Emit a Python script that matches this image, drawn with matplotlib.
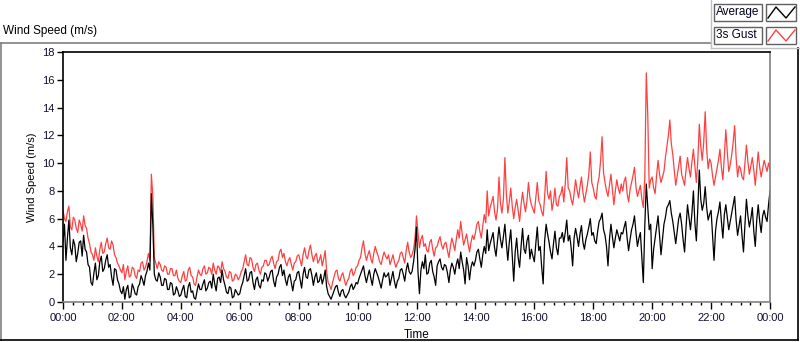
import numpy as np
import matplotlib
matplotlib.use("Agg")
import matplotlib.pyplot as plt
from matplotlib.lines import Line2D
from matplotlib.patches import Rectangle

plt.rcParams['font.family'] = ['Liberation Sans', 'DejaVu Sans']

# 3s gust, one value every 3 minutes (20 per hour, one row per hour)
gust = [
    6.6, 6.0, 5.8, 6.5, 6.9, 5.4, 5.2, 6.1, 5.9, 5.3, 5.0, 5.9, 5.6, 5.1, 6.2, 5.5, 5.3, 4.6, 4.2, 3.6,
    3.4, 3.0, 3.9, 3.3, 2.9, 3.8, 4.3, 3.5, 3.6, 4.2, 4.6, 3.9, 3.8, 4.4, 4.1, 3.4, 3.2, 2.8, 2.6, 2.3,
    2.1, 2.7, 1.6, 2.2, 2.6, 1.8, 1.9, 2.5, 2.4, 1.9, 1.7, 2.3, 2.2, 2.8, 2.9, 2.3, 2.5, 2.9, 3.5, 3.0,
    9.2, 7.6, 3.2, 2.8, 2.4, 2.9, 2.7, 2.3, 2.2, 2.6, 2.5, 2.0, 2.0, 2.4, 2.4, 1.9, 1.9, 2.3, 1.7, 1.5,
    1.4, 1.9, 2.2, 1.5, 1.6, 2.3, 2.5, 1.9, 1.8, 1.3, 1.2, 1.8, 2.3, 2.0, 1.9, 2.4, 2.6, 2.0, 2.1, 2.5,
    2.4, 2.0, 2.8, 2.3, 2.0, 2.6, 2.5, 2.1, 2.9, 2.4, 2.2, 1.8, 1.7, 2.2, 2.1, 1.5, 1.6, 2.0, 1.9, 1.6,
    1.8, 2.2, 2.4, 2.9, 3.4, 2.7, 2.6, 3.2, 3.1, 2.5, 2.2, 2.7, 2.8, 2.3, 2.0, 2.5, 2.6, 3.0, 3.0, 2.6,
    2.7, 3.1, 3.3, 2.8, 2.4, 2.9, 3.0, 3.6, 3.8, 3.2, 3.5, 2.9, 2.6, 3.0, 3.2, 2.7, 2.3, 2.8, 2.9, 3.3,
    3.4, 3.0, 2.6, 3.4, 3.9, 3.3, 3.1, 3.7, 4.1, 3.4, 2.9, 3.3, 3.5, 2.8, 3.0, 3.4, 2.6, 3.1, 3.7, 2.2,
    1.4, 1.2, 0.9, 1.4, 1.8, 2.2, 2.3, 1.7, 1.5, 1.9, 2.1, 1.6, 1.2, 1.5, 1.7, 2.2, 2.4, 1.9, 2.1, 2.5,
    2.6, 3.0, 3.2, 3.9, 4.4, 3.5, 3.0, 3.4, 3.7, 3.1, 2.8, 3.5, 4.0, 3.6, 3.3, 2.9, 2.7, 3.2, 3.6, 3.3,
    3.1, 3.4, 2.7, 3.0, 3.4, 2.9, 2.5, 2.8, 3.0, 3.5, 3.6, 3.2, 2.8, 3.7, 4.3, 3.6, 3.2, 3.4, 3.8, 4.6,
    6.2, 5.0, 3.9, 4.5, 4.8, 4.0, 4.2, 3.7, 3.6, 4.3, 4.5, 3.8, 3.3, 3.9, 4.0, 4.4, 4.7, 4.1, 3.8, 4.2,
    4.3, 3.7, 3.2, 4.0, 4.6, 4.2, 3.7, 4.5, 5.2, 4.6, 5.8, 4.9, 4.1, 4.5, 4.9, 4.2, 3.6, 4.3, 4.8, 4.5,
    5.0, 5.6, 5.8, 5.1, 4.6, 5.5, 6.3, 5.7, 8.0, 6.2, 6.8, 7.2, 7.6, 6.5, 5.9, 6.7, 9.0, 7.1, 6.4, 7.4,
    10.4, 7.8, 6.4, 7.2, 8.2, 6.9, 6.0, 6.8, 7.4, 6.6, 5.8, 7.0, 7.9, 7.1, 6.5, 7.3, 8.6, 7.5, 7.0, 6.7,
    6.4, 7.5, 8.6, 7.3, 7.0, 6.5, 6.2, 7.6, 9.4, 7.8, 7.4, 8.0, 6.6, 7.2, 8.2, 7.0, 6.9, 7.6, 7.8, 8.3,
    7.2, 8.5, 10.4, 8.2, 8.0, 7.4, 7.0, 7.8, 8.8, 8.1, 7.5, 8.3, 9.0, 7.9, 7.2, 7.8, 8.4, 9.2, 10.8, 8.6,
    8.2, 7.6, 7.4, 8.5, 9.0, 10.2, 11.9, 9.3, 8.6, 8.0, 7.6, 8.4, 9.2, 8.1, 7.0, 8.0, 8.8, 8.2, 7.8, 8.5,
    8.0, 8.7, 9.0, 7.8, 7.2, 8.1, 8.6, 9.1, 9.7, 8.3, 7.6, 8.0, 8.4, 7.4, 6.8, 9.0, 16.5, 13.5, 8.2, 8.8,
    9.0, 8.2, 7.8, 9.1, 10.2, 9.2, 8.6, 9.0, 9.4, 10.4, 11.2, 12.0, 13.1, 11.4, 10.6, 9.5, 8.4, 9.1, 9.8, 10.5,
    9.2, 8.8, 8.4, 9.5, 10.4, 9.6, 9.0, 10.1, 11.0, 9.8, 8.6, 10.2, 12.8, 11.2, 10.2, 11.5, 13.7, 11.0, 9.6, 10.3,
    10.0, 9.1, 8.4, 9.0, 9.6, 10.2, 11.0, 9.7, 8.8, 10.5, 12.4, 10.8, 9.4, 9.9, 10.6, 11.5, 12.7, 10.4, 9.0, 9.8,
    9.6, 9.0, 8.8, 10.0, 11.3, 10.1, 9.2, 9.8, 10.4, 9.5, 8.4, 9.6, 10.8, 9.7, 9.0, 9.6, 10.2, 9.8, 9.4, 10.0,
    9.6,
]

# average wind speed, same time steps
average = [
    4.3, 5.6, 3.0, 4.6, 5.9, 3.9, 3.4, 4.5, 4.1, 2.9, 3.5, 4.3, 4.4, 3.3, 4.8, 3.8, 3.6, 2.7, 2.5, 1.4,
    1.2, 2.1, 2.8, 1.6, 1.9, 2.9, 3.3, 2.2, 2.4, 3.0, 3.4, 2.5, 2.7, 1.8, 1.2, 2.4, 2.3, 1.6, 1.3, 0.8,
    0.6, 1.1, 0.2, 0.9, 1.2, 0.3, 0.4, 1.3, 1.0, 0.6, 0.5, 1.1, 1.3, 1.9, 1.6, 1.2, 1.9, 2.2, 2.8, 2.3,
    7.8, 5.5, 2.0, 1.6, 1.5, 2.1, 1.8, 1.2, 1.2, 1.7, 1.6, 0.9, 0.9, 1.4, 1.3, 0.5, 0.6, 1.1, 0.8, 0.4,
    0.5, 0.9, 1.2, 0.4, 0.3, 1.1, 1.4, 0.7, 0.8, 0.3, 0.2, 0.8, 1.3, 0.9, 0.9, 1.3, 1.6, 0.8, 1.0, 1.4,
    1.5, 1.0, 2.0, 1.3, 0.8, 1.7, 1.8, 1.4, 2.3, 1.6, 1.2, 0.7, 0.6, 1.1, 1.0, 0.3, 0.4, 0.9, 0.7, 0.5,
    0.6, 1.1, 1.4, 1.9, 2.4, 1.5, 1.6, 2.1, 2.2, 1.4, 0.9, 1.6, 1.8, 1.2, 1.0, 1.6, 1.5, 2.1, 2.0, 1.5,
    1.8, 2.2, 2.3, 1.5, 1.1, 1.8, 2.0, 2.5, 2.7, 1.9, 2.3, 1.6, 1.2, 1.8, 2.0, 1.4, 0.8, 1.5, 1.6, 2.1,
    2.2, 1.6, 1.0, 2.0, 2.5, 1.8, 1.7, 2.3, 2.4, 1.9, 1.2, 1.8, 2.1, 1.4, 1.5, 2.0, 1.3, 1.7, 2.3, 1.1,
    0.6, 0.4, 0.2, 0.5, 0.8, 1.1, 1.2, 0.7, 0.4, 0.8, 0.9, 0.5, 0.3, 0.5, 0.7, 1.1, 1.3, 0.9, 1.1, 1.4,
    1.3, 1.7, 2.0, 2.3, 2.6, 1.9, 1.4, 1.9, 2.3, 1.7, 1.2, 2.0, 2.4, 2.1, 1.8, 1.4, 1.0, 1.6, 2.1, 1.8,
    1.9, 2.1, 1.2, 1.7, 2.2, 1.5, 1.0, 1.5, 1.7, 2.3, 2.4, 2.0, 1.5, 2.3, 2.8, 2.2, 2.0, 2.2, 2.9, 3.8,
    5.4, 2.2, 0.6, 2.3, 2.9, 2.4, 3.4, 2.0, 2.1, 2.8, 3.0, 2.2, 1.8, 1.2, 2.6, 2.9, 3.1, 2.5, 2.3, 2.7,
    2.6, 2.1, 1.4, 2.3, 2.8, 2.5, 2.0, 2.7, 3.1, 2.4, 3.6, 2.9, 2.3, 1.3, 3.2, 2.6, 1.6, 2.5, 2.9, 2.6,
    3.0, 3.6, 3.8, 3.1, 2.5, 3.4, 4.0, 3.5, 5.2, 3.7, 4.2, 4.6, 5.0, 3.9, 3.3, 4.4, 5.4, 4.5, 3.9, 4.7,
    5.6, 4.2, 3.0, 4.3, 5.2, 3.4, 1.5, 3.6, 4.6, 3.2, 2.5, 4.0, 5.3, 3.8, 3.5, 4.4, 4.8, 3.1, 3.8, 3.3,
    2.9, 4.2, 5.4, 3.7, 4.0, 2.5, 1.3, 4.4, 5.6, 4.9, 4.3, 3.6, 3.1, 4.2, 5.1, 3.9, 3.4, 4.6, 4.6, 5.0,
    4.3, 5.0, 5.9, 4.4, 4.8, 3.9, 2.6, 4.6, 5.3, 4.7, 4.0, 4.9, 5.5, 4.3, 3.8, 4.5, 4.9, 5.4, 6.0, 4.8,
    5.0, 4.4, 4.2, 5.1, 5.8, 6.0, 6.4, 5.2, 4.8, 4.0, 2.6, 4.5, 5.6, 4.7, 3.9, 4.6, 5.2, 4.8, 4.4, 5.0,
    4.9, 5.4, 5.8, 4.6, 3.7, 4.5, 5.2, 5.6, 6.2, 5.0, 4.0, 4.6, 5.0, 3.2, 1.4, 5.5, 8.5, 6.8, 5.2, 5.6,
    2.4, 3.8, 4.6, 5.4, 6.2, 4.8, 3.4, 4.5, 5.6, 6.1, 6.8, 7.0, 7.3, 6.4, 5.8, 5.0, 4.2, 5.1, 6.0, 6.4,
    5.6, 4.5, 3.6, 5.4, 7.0, 6.1, 5.2, 6.4, 8.0, 5.7, 4.4, 6.8, 9.5, 7.4, 6.6, 7.1, 8.3, 6.8, 5.9, 6.3,
    6.6, 4.8, 3.0, 5.1, 6.0, 6.5, 7.2, 5.8, 4.6, 6.3, 7.0, 6.1, 5.2, 5.8, 6.4, 7.0, 7.6, 5.9, 4.8, 5.5,
    6.2, 4.8, 3.6, 5.6, 7.4, 6.2, 5.4, 6.0, 6.8, 5.1, 4.0, 5.9, 7.0, 5.8, 5.0, 6.2, 6.6, 6.1, 5.8, 7.0,
    8.0,
]

hour_ticks = [0, 2, 4, 6, 8, 10, 12, 14, 16, 18, 20, 22, 24]
hour_labels = ["00:00", "02:00", "04:00", "06:00", "08:00", "10:00", "12:00",
               "14:00", "16:00", "18:00", "20:00", "22:00", "00:00"]
y_ticks = [0, 2, 4, 6, 8, 10, 12, 14, 16, 18]

W, H = 800, 342


def fx(x):
    return x / W


def fy(y):
    return 1 - y / H


fig = plt.figure(figsize=(8, 3.42), dpi=100)
ax = fig.add_axes([fx(63), fy(302), (770 - 63) / W, 250 / H])

t = np.arange(len(gust)) / 20.0
ax.plot(t, gust, color="#ff4040", lw=0.9)
ax.plot(t, average, color="black", lw=0.9)

ax.set_xlim(0, 24)
ax.set_ylim(0, 18)
ax.set_xticks(hour_ticks)
ax.set_xticklabels(hour_labels)
ax.set_xticks(np.arange(0, 24.01, 1 / 3.0), minor=True)
ax.set_yticks(y_ticks)
ax.tick_params(axis="both", which="major", labelsize=8, length=4, width=1,
               color="black", labelcolor="#101030", pad=2)
ax.tick_params(axis="x", which="minor", length=2.5, width=1, color="black")
ax.tick_params(axis="x", which="major", length=5, pad=3)
ax.spines["left"].set_color("black")
ax.spines["top"].set_color("black")
ax.spines["right"].set_color("#808080")
ax.spines["bottom"].set_color("#808080")
for s in ax.spines.values():
    s.set_linewidth(1.2)

ax.set_ylabel("Wind Speed (m/s)", fontsize=8, labelpad=4)
ax.set_xlabel("Time", fontsize=8.5, labelpad=4)

# title above the chart frame
fig.text(fx(3), fy(31), "Wind Speed (m/s)", fontsize=8.5, va="center", ha="left")

# chart frame
fig.add_artist(Line2D([fx(0), fx(711)], [fy(42.5), fy(42.5)], color="#808080", lw=1.2))
fig.add_artist(Line2D([fx(0.5), fx(0.5)], [fy(42.5), fy(340)], color="#808080", lw=1.2))
fig.add_artist(Line2D([fx(0), fx(798)], [fy(340), fy(340)], color="black", lw=1.2))
fig.add_artist(Line2D([fx(797.5), fx(797.5)], [fy(48), fy(340)], color="black", lw=1.2))

# legend panel
fig.add_artist(Line2D([fx(711), fx(711)], [fy(0), fy(48)], color="#c0c0c0", lw=1))
fig.add_artist(Line2D([fx(711), fx(800)], [fy(48), fy(48)], color="#c0c0c0", lw=1))
legend_rows = [("Average", "black", 4), ("3s Gust", "#ff4040", 27)]
for name, col, top in legend_rows:
    fig.add_artist(Rectangle((fx(714), fy(top + 17)), 48 / W, 17 / H,
                             fill=False, edgecolor="#606060", lw=1))
    fig.add_artist(Rectangle((fx(766), fy(top + 17)), 30 / W, 17 / H,
                             fill=False, edgecolor="#606060", lw=1))
    fig.text(fx(716), fy(top + 8.5), name, fontsize=8.5, va="center", ha="left",
             color="#000020")
    fig.add_artist(Line2D([fx(768), fx(776), fx(786), fx(795)],
                          [fy(top + 14), fy(top + 3), fy(top + 14), fy(top + 3)],
                          color=col, lw=1))

fig.savefig("out.png", dpi=100)
